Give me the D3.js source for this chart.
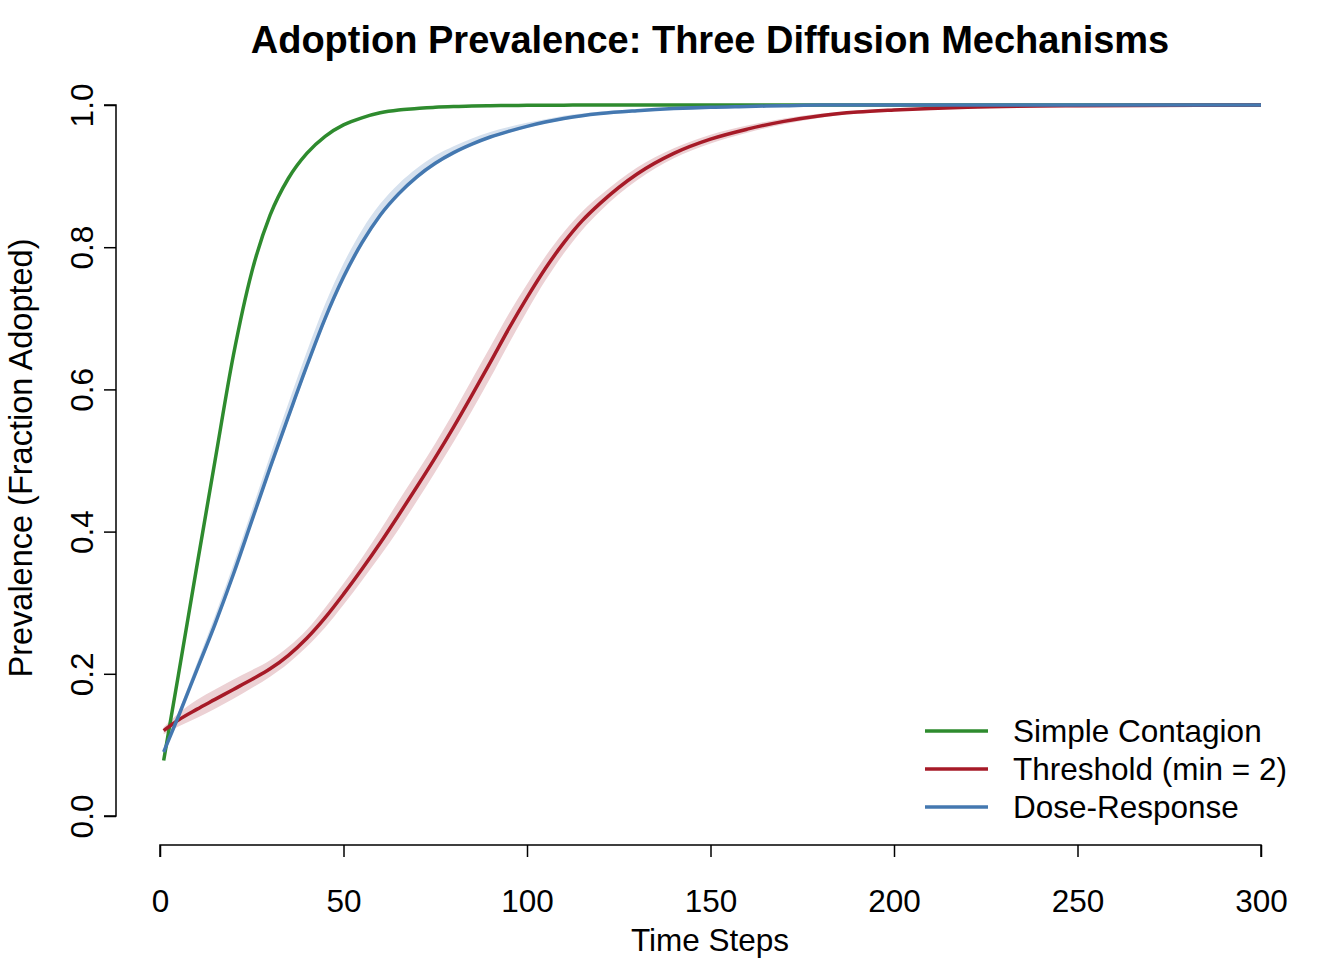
<!DOCTYPE html>
<html>
<head>
<meta charset="utf-8">
<script src="https://cdn.jsdelivr.net/npm/d3@7"></script>
<style>
body { margin: 0; background: #fff; }
text { font-family: "Liberation Sans", Arial, Helvetica, sans-serif; fill: #000; }
</style>
</head>
<body>
<script>
var w = 1344;
var h = 960;

// time steps
var steps = [1, 5, 10, 15, 20, 25, 30, 35, 40, 45, 50, 55, 60, 65, 70, 75, 80, 85, 90, 95,
             100, 105, 110, 115, 120, 130, 140, 150, 160, 170, 180, 190, 200, 220, 250, 300];

var simpleMean = [0.078, 0.198, 0.35, 0.50, 0.648, 0.765, 0.845, 0.897, 0.932, 0.956, 0.972, 0.982, 0.989, 0.993, 0.995, 0.997, 0.998, 0.9985, 0.999, 0.9993,
                  0.9995, 0.9997, 0.9998, 0.9999, 1, 1, 1, 1, 1, 1, 1, 1, 1, 1, 1, 1];
var simpleLo = [0.076, 0.195, 0.347, 0.497, 0.645, 0.762, 0.843, 0.895, 0.93, 0.955, 0.971, 0.981, 0.988, 0.992, 0.994, 0.996, 0.997, 0.998, 0.9985, 0.999,
                0.9992, 0.9995, 0.9997, 0.9998, 0.9999, 1, 1, 1, 1, 1, 1, 1, 1, 1, 1, 1];
var simpleHi = [0.08, 0.201, 0.353, 0.503, 0.651, 0.768, 0.847, 0.899, 0.934, 0.957, 0.973, 0.983, 0.99, 0.994, 0.996, 0.998, 0.999, 0.999, 0.9995, 0.9996,
                0.9998, 0.9999, 1, 1, 1, 1, 1, 1, 1, 1, 1, 1, 1, 1, 1, 1];

var thresholdMean = [0.12, 0.135, 0.15, 0.164, 0.178, 0.192, 0.207, 0.226, 0.25, 0.279, 0.312, 0.347, 0.384, 0.423, 0.463, 0.504, 0.547, 0.592, 0.638, 0.685,
                     0.729, 0.77, 0.806, 0.837, 0.862, 0.903, 0.932, 0.952, 0.966, 0.977, 0.985, 0.99, 0.993, 0.997, 0.999, 1];
var thresholdLo = [0.115, 0.126, 0.138, 0.151, 0.165, 0.18, 0.196, 0.215, 0.238, 0.265, 0.297, 0.331, 0.366, 0.403, 0.443, 0.484, 0.526, 0.57, 0.616, 0.664,
                   0.71, 0.753, 0.791, 0.824, 0.851, 0.894, 0.925, 0.946, 0.961, 0.973, 0.982, 0.988, 0.991, 0.996, 0.998, 1];
var thresholdHi = [0.125, 0.144, 0.163, 0.178, 0.192, 0.205, 0.219, 0.238, 0.262, 0.293, 0.327, 0.363, 0.402, 0.443, 0.483, 0.524, 0.568, 0.614, 0.66, 0.706,
                   0.748, 0.787, 0.821, 0.85, 0.873, 0.912, 0.939, 0.958, 0.971, 0.981, 0.988, 0.992, 0.995, 0.998, 1, 1];

var doseMean = [0.09, 0.14, 0.205, 0.27, 0.34, 0.415, 0.49, 0.562, 0.633, 0.7, 0.758, 0.806, 0.845, 0.875, 0.899, 0.918, 0.933, 0.945, 0.955, 0.963,
                0.97, 0.976, 0.981, 0.985, 0.988, 0.992, 0.995, 0.997, 0.998, 0.999, 1, 1, 1, 1, 1, 1];
var doseLo = [0.087, 0.136, 0.2, 0.265, 0.335, 0.41, 0.484, 0.556, 0.627, 0.694, 0.752, 0.801, 0.841, 0.871, 0.896, 0.915, 0.93, 0.943, 0.953, 0.961,
              0.968, 0.974, 0.979, 0.983, 0.987, 0.991, 0.994, 0.996, 0.997, 0.998, 0.999, 1, 1, 1, 1, 1];
var doseHi = [0.093, 0.146, 0.214, 0.282, 0.354, 0.43, 0.507, 0.581, 0.653, 0.72, 0.777, 0.824, 0.861, 0.889, 0.911, 0.929, 0.942, 0.953, 0.962, 0.969,
              0.975, 0.98, 0.985, 0.988, 0.991, 0.994, 0.997, 0.998, 0.999, 1, 1, 1, 1, 1, 1, 1];

var seriesNames = ["Simple Contagion", "Threshold (min = 2)", "Dose-Response"];
var seriesColors = ["#2E8B2E", "#A61A27", "#4478B0"];
var bandColors = ["#d9ead9", "#ecd1d4", "#d6e1ee"];

var xTicks = [0, 50, 100, 150, 200, 250, 300];
var yTicks = [0, 0.2, 0.4, 0.6, 0.8, 1.0];

var series = [
    {name: seriesNames[0], mean: simpleMean, lo: simpleLo, hi: simpleHi},
    {name: seriesNames[1], mean: thresholdMean, lo: thresholdLo, hi: thresholdHi},
    {name: seriesNames[2], mean: doseMean, lo: doseLo, hi: doseHi}
];

var x = d3.scaleLinear().domain([0, 300]).range([160, 1261]);
var y = d3.scaleLinear().domain([0, 1]).range([816, 105]);

var svg = d3.select("body")
    .append("svg")
    .attr("width", w)
    .attr("height", h)

var area = d3.area()
    .x(function(d, i) { return x(steps[i]); })
    .y0(function(d) { return y(d[0]); })
    .y1(function(d) { return y(d[1]); })
    .curve(d3.curveMonotoneX)

var line = d3.line()
    .x(function(d, i) { return x(steps[i]); })
    .y(function(d) { return y(d); })
    .curve(d3.curveMonotoneX)

// bands first, then lines
series.forEach(function(s, k) {
    var band = s.lo.map(function(v, i) { return [v, s.hi[i]]; });
    svg.append("path")
        .datum(band)
        .attr("d", area)
        .style("fill", bandColors[k])
        .style("stroke", "none")
});

series.forEach(function(s, k) {
    svg.append("path")
        .datum(s.mean)
        .attr("d", line)
        .style("fill", "none")
        .style("stroke", seriesColors[k])
        .style("stroke-width", 3.5)
});

// axes, R style
var xAxis = svg.append("g")
    .attr("transform", "translate(0,845)")
    .call(d3.axisBottom(x).tickValues(xTicks).tickSize(12).tickPadding(33).tickFormat(d3.format("d")))
var yAxis = svg.append("g")
    .attr("transform", "translate(116,0)")
    .call(d3.axisLeft(y).tickValues(yTicks).tickSize(12).tickFormat(d3.format(".1f")))

svg.selectAll(".domain").style("stroke", "#000").style("stroke-width", 1.5);
svg.selectAll(".tick line").style("stroke", "#000").style("stroke-width", 1.5);
xAxis.selectAll("text").style("font-size", "31.5px").style("font-family", "Liberation Sans, Arial, sans-serif");
yAxis.selectAll(".tick text")
    .attr("x", null).attr("dy", null)
    .attr("transform", "translate(-23,0) rotate(-90)")
    .attr("text-anchor", "middle")
    .style("font-size", "31.5px")
    .style("font-family", "Liberation Sans, Arial, sans-serif")

// y axis line in R stops at the end ticks
yAxis.select(".domain").attr("d", "M-12," + y(0) + "H0V" + y(1) + "H-12").style("fill", "none");
yAxis.selectAll(".tick line").remove();
yAxis.selectAll(".tick").append("line").attr("x2", -12).style("stroke", "#000").style("stroke-width", 1.5);
xAxis.select(".domain").attr("d", "M" + x(0) + ",12V0H" + x(300) + "V12").style("fill", "none");

svg.append("text")
    .attr("x", 710).attr("y", 53)
    .attr("text-anchor", "middle")
    .style("font-size", "38px").style("font-weight", "bold")
    .text("Adoption Prevalence: Three Diffusion Mechanisms")

svg.append("text")
    .attr("x", 710).attr("y", 951)
    .attr("text-anchor", "middle")
    .style("font-size", "31.5px")
    .text("Time Steps")

svg.append("text")
    .attr("transform", "translate(32,458) rotate(-90)")
    .attr("text-anchor", "middle")
    .style("font-size", "32.5px")
    .text("Prevalence (Fraction Adopted)")

// legend
var legend = svg.append("g")
series.forEach(function(s, k) {
    var ly = 731 + k * 38;
    legend.append("line")
        .attr("x1", 925).attr("x2", 988)
        .attr("y1", ly).attr("y2", ly)
        .style("stroke", seriesColors[k])
        .style("stroke-width", 3.5)
    legend.append("text")
        .attr("x", 1013).attr("y", ly + 11)
        .style("font-size", "31.5px")
        .text(s.name)
});
</script>
</body>
</html>
